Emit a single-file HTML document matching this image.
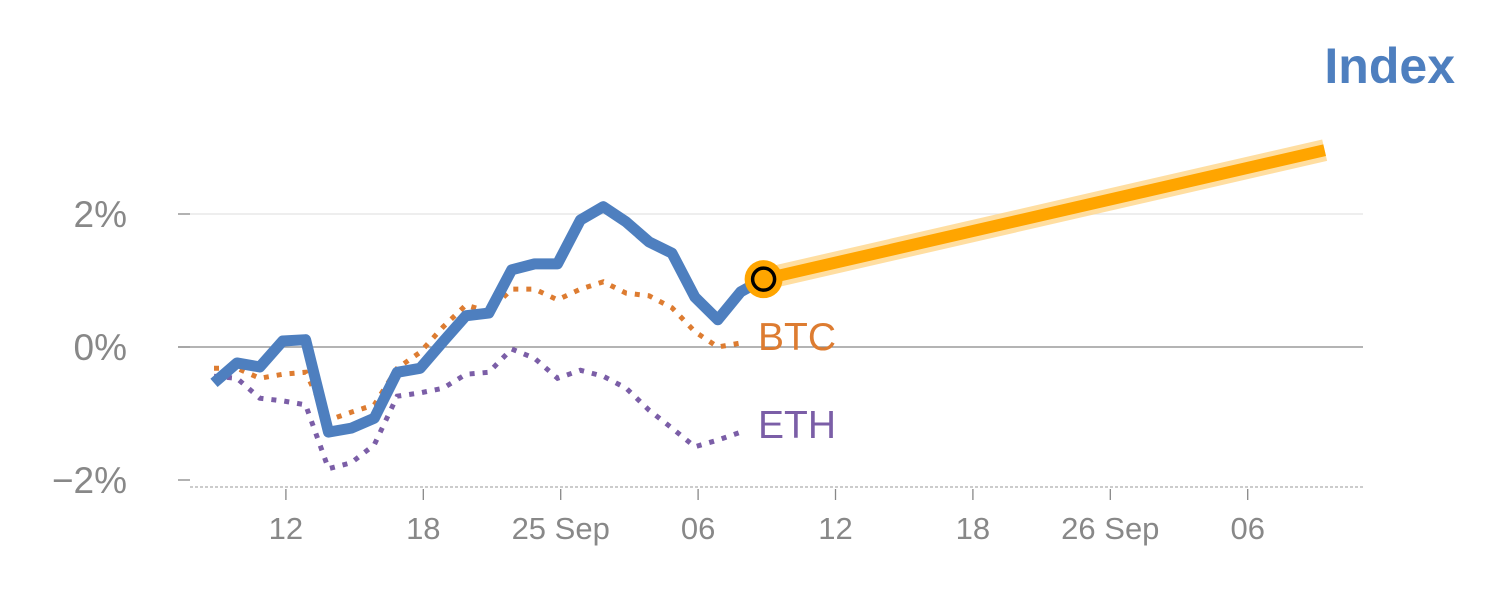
<!DOCTYPE html>
<html><head><meta charset="utf-8"><style>
body{margin:0;background:#fff;width:1500px;height:600px;overflow:hidden}
svg{font-family:"Liberation Sans",sans-serif}
</style></head><body>
<svg id="chart" width="1500" height="600">
<text x="1455" y="83" text-anchor="end" font-size="50" font-weight="bold" fill="#4e7fbf">Index</text>
<g id="g"></g>
</svg>
<script>
const days = Array.from({length:25},(_,i)=>i);
const indexVals = [-0.54,-0.24,-0.30,0.09,0.11,-1.28,-1.22,-1.07,-0.38,-0.32,0.08,0.47,0.51,1.16,1.25,1.25,1.91,2.11,1.88,1.58,1.41,0.75,0.41,0.83,1.02];
const btcVals = [-0.32,-0.32,-0.47,-0.41,-0.38,-1.10,-0.98,-0.87,-0.32,-0.08,0.30,0.63,0.53,0.87,0.87,0.71,0.87,0.98,0.81,0.77,0.59,0.23,0.0,0.06];
const ethVals = [-0.44,-0.47,-0.77,-0.81,-0.87,-1.83,-1.74,-1.47,-0.74,-0.69,-0.62,-0.41,-0.38,-0.03,-0.17,-0.47,-0.35,-0.44,-0.62,-0.95,-1.22,-1.50,-1.40,-1.28];
const forecastDays = [24,48.5];
const forecastVals = [1.02,2.96];
const xTickDays = [3.14,9.14,15.14,21.14,27.14,33.14,39.14,45.14];
const xTickLabels = ["12","18","25 Sep","06","12","18","26 Sep","06"];
const yTicks = [-2,0,2];
const yTickLabels = ["\u22122%","0%","2%"];

const X = d => 214 + d*22.9;
const Y = v => 347 - v*66.5;
const NS="http://www.w3.org/2000/svg";
const g=document.getElementById('g');
function mk(tag,attrs,name){const e=document.createElementNS(NS,tag);for(const k in attrs)e.setAttribute(k,attrs[k]);


g.appendChild(e);return e;}

yTicks.forEach((v,i)=>{
  const y=Y(v);
  if(v===0) mk('line',{x1:178,x2:1363,y1:y,y2:y,stroke:'#888','stroke-width':1.3},'zero-line');
  else if(v>0) mk('line',{x1:190,x2:1363,y1:y,y2:y,stroke:'#e4e4e4','stroke-width':1.3},'grid-line');
  mk('line',{x1:178,x2:190,y1:y,y2:y,stroke:'#888','stroke-width':1.3},'y-tick');
  const t=mk('text',{x:127,y:y+13,'text-anchor':'end','font-size':37,fill:'#888'},'y-tick-label');t.textContent=yTickLabels[i];
});
mk('line',{x1:190,x2:1365,y1:487,y2:487,stroke:'#ccc','stroke-width':2,'stroke-dasharray':'3,2'},'x-axis-line');
xTickDays.forEach((d,i)=>{
  const x=X(d);
  mk('line',{x1:x,x2:x,y1:489,y2:500,stroke:'#888','stroke-width':1.3},'x-tick');
  const t=mk('text',{x:x,y:539,'text-anchor':'middle','font-size':31,fill:'#888'},'x-tick-label');t.textContent=xTickLabels[i];
});
const pts=(vals,ds)=>vals.map((v,i)=>X(ds?ds[i]:days[i])+','+Y(v)).join(' ');
mk('polyline',{points:pts(ethVals),fill:'none',stroke:'#7b5ea7','stroke-width':5,'stroke-dasharray':'5,8'},'eth-line');
mk('polyline',{points:pts(btcVals),fill:'none',stroke:'#dd7c31','stroke-width':5,'stroke-dasharray':'5,8'},'btc-line');
mk('polyline',{points:pts(indexVals),fill:'none',stroke:'#4e7fbf','stroke-width':11,'stroke-linejoin':'round'},'index-line');
mk('polyline',{points:pts(forecastVals,forecastDays),fill:'none',stroke:'#ffd68a','stroke-width':22,'opacity':0.8},'forecast-halo');
mk('polyline',{points:pts(forecastVals,forecastDays),fill:'none',stroke:'#ffa500','stroke-width':12},'forecast-line');
mk('circle',{cx:X(24),cy:Y(1.02),r:19,fill:'#ffa500'},'last-point-halo');
mk('circle',{cx:X(24),cy:Y(1.02),r:11,fill:'none',stroke:'#000','stroke-width':3.5},'last-point-marker');
let t=mk('text',{x:758,y:Y(btcVals[btcVals.length-1])+7,'font-size':39,fill:'#dd7c31'},'btc-label');t.textContent='BTC';
t=mk('text',{x:758,y:Y(ethVals[ethVals.length-1])+6,'font-size':39,fill:'#7b5ea7'},'eth-label');t.textContent='ETH';
</script>
</body></html>
